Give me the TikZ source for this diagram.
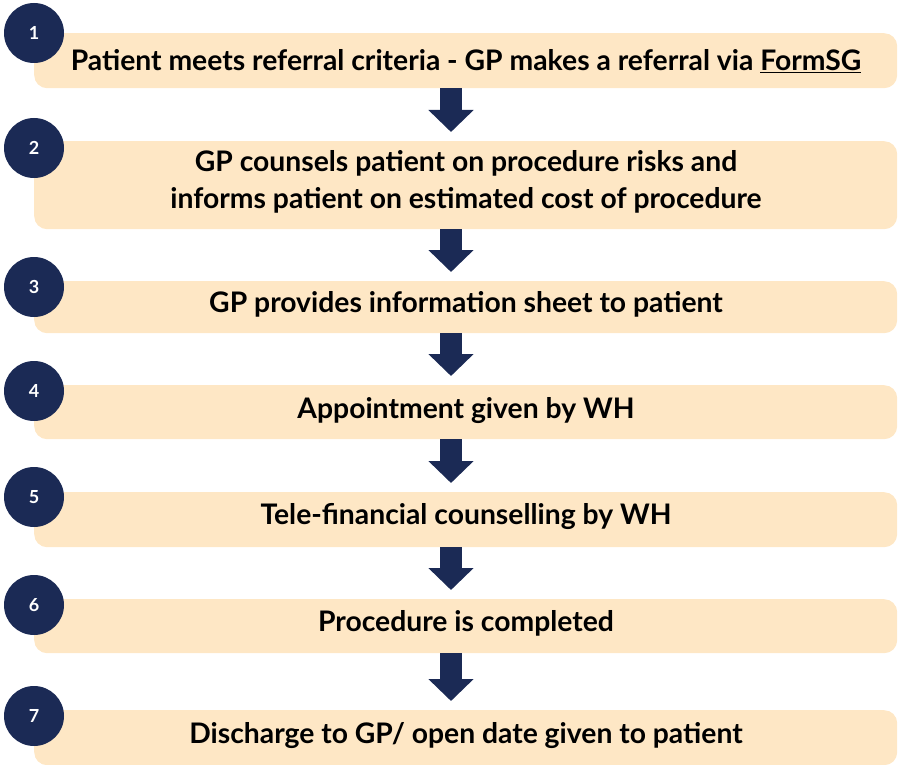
\documentclass[tikz,border=0pt]{standalone}
\usepackage{fontspec}
\setmainfont{Lato}
\usetikzlibrary{arrows.meta}
\definecolor{navy}{HTML}{1B2A55}
\definecolor{boxfill}{HTML}{FEE7C5}
\begin{document}
\begin{tikzpicture}[x=1pt,y=-1pt,
  stepbox/.style={fill=boxfill, rounded corners=13pt, draw=none, anchor=north west,
    minimum width=863pt, inner sep=0pt},
  lbl/.style={align=center, font=\bfseries\fontsize{28.3}{37}\selectfont},
  num/.style={circle, fill=navy, minimum size=60pt, inner sep=0pt, text=white,
    font=\bfseries\fontsize{18}{18}\selectfont},
  arr/.style={draw=navy, line width=22pt, -{Triangle[width=44pt,length=22pt,fill=navy]}}]
\useasboundingbox (0,0) rectangle (899,765);
\node[stepbox, minimum height=55pt] (b1) at (34,33) {};
\node[stepbox, minimum height=88pt] (b2) at (34,141) {};
\node[stepbox, minimum height=52pt] (b3) at (34,281) {};
\node[stepbox, minimum height=54pt] (b4) at (34,385) {};
\node[stepbox, minimum height=55pt] (b5) at (34,492) {};
\node[stepbox, minimum height=54pt] (b6) at (34,599) {};
\node[stepbox, minimum height=55pt] (b7) at (34,710) {};
\node[lbl] (t1) at (466,61) {Patient meets referral criteria - GP makes a referral via \underline{FormSG}};
\node[lbl] (t2) at (466,182) {GP counsels patient on procedure risks and\\informs patient on estimated cost of procedure};
\node[lbl] (t3) at (466,304) {GP provides information sheet to patient};
\node[lbl] (t4) at (466,411) {Appointment given by WH};
\node[lbl] (t5) at (466,517) {Tele-financial counselling by WH};
\node[lbl] (t6) at (466,623) {Procedure is completed};
\node[lbl] (t7) at (466,736) {Discharge to GP/ open date given to patient};
\node[num] (n1) at (34,33) {1};
\node[num] (n2) at (34,148) {2};
\node[num] (n3) at (34,287) {3};
\node[num] (n4) at (34,391) {4};
\node[num] (n5) at (34,497) {5};
\node[num] (n6) at (34,605) {6};
\node[num] (n7) at (34,716) {7};
\coordinate (ax) at (451,0);
\foreach \a/\b in {b1/b2,b2/b3,b3/b4,b4/b5,b5/b6,b6/b7}
  \draw[arr] (\a.south -| ax) -- ([yshift=9pt]\b.north -| ax);
\end{tikzpicture}
\end{document}
